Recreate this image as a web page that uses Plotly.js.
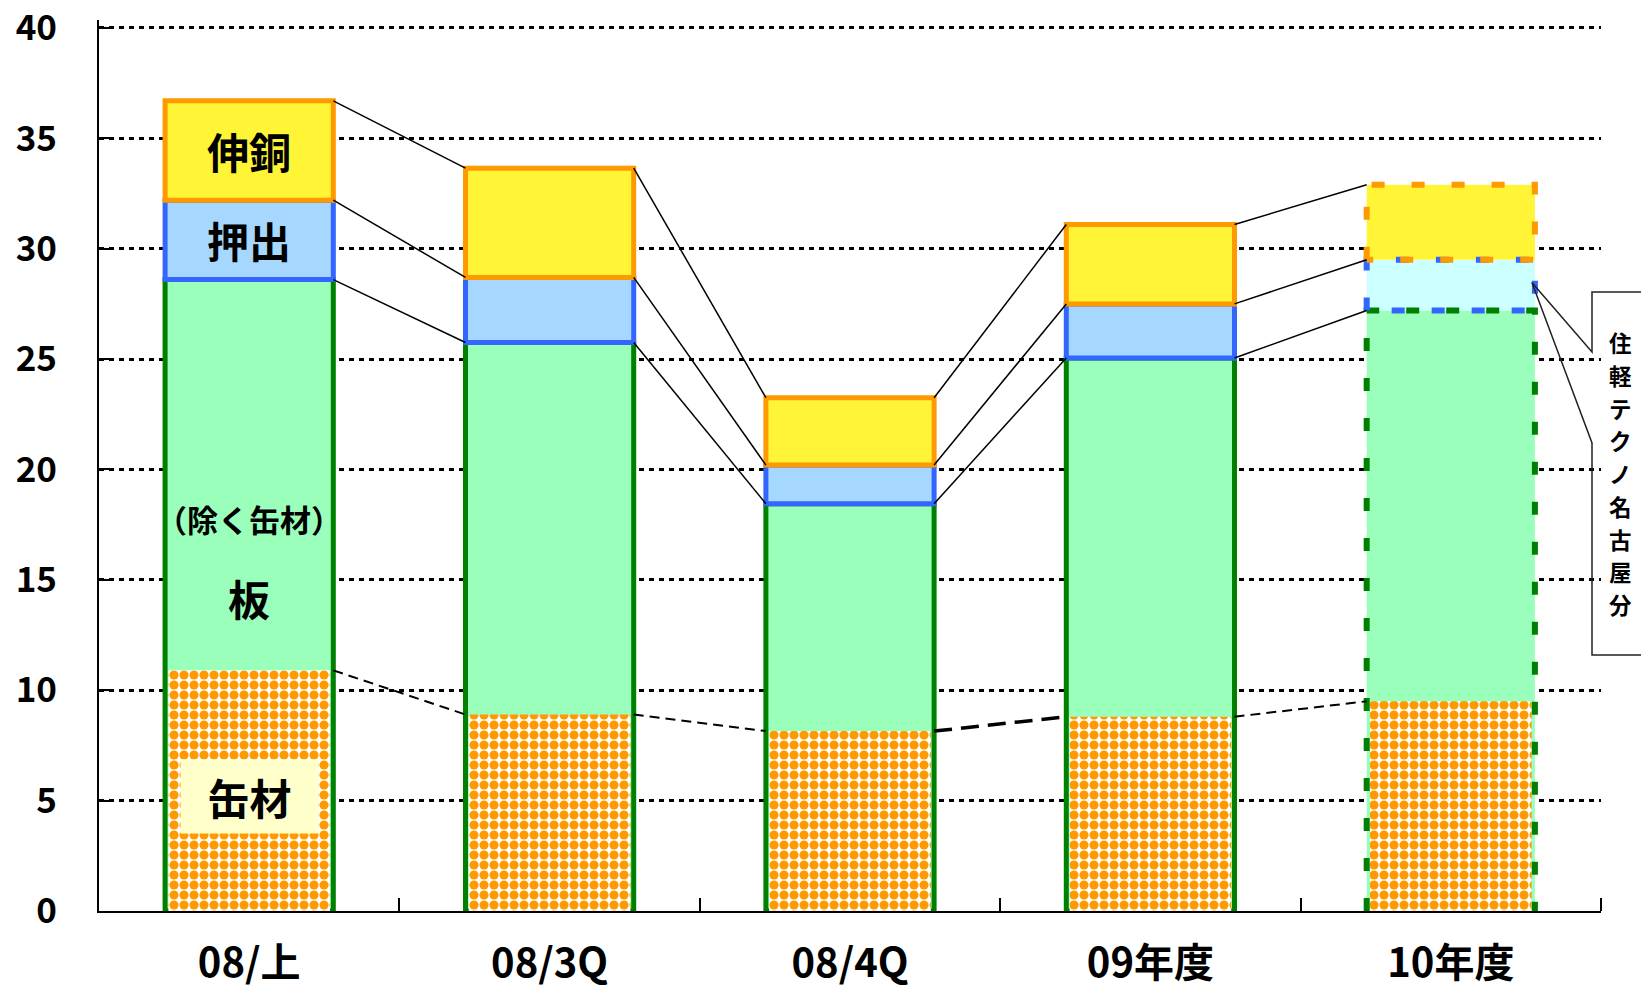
<!DOCTYPE html>
<html>
<head>
<meta charset="utf-8">
<script src="https://cdn.plot.ly/plotly-3.0.1.min.js"></script>
<style>
  html, body { margin: 0; padding: 0; background: #ffffff; }
  #chart { width: 1641px; height: 992px; }
</style>
</head>
<body>
<div id="chart"></div>
<script>
// Periods shown on the horizontal axis
const categories = ['08/上', '08/3Q', '08/4Q', '09年度', '10年度'];

// Segment values per period (stacked bottom to top)
const canStock   = [10.9, 8.9, 8.15, 8.8, 9.5];     // 缶材
const plateExCan = [17.7, 16.85, 10.3, 16.25, 17.7]; // 板（除く缶材）
const extrusion  = [3.6, 2.95, 1.75, 2.45, 2.3];     // 押出
const copper     = [4.5, 4.95, 3.05, 3.6, 3.4];      // 伸銅

const yTicks = [0, 5, 10, 15, 20, 25, 30, 35, 40];

// Text for the callout box next to the last bar
const calloutText = '住軽テクノ名古屋分';

// ---- derived stack levels ----
const n = categories.length;
const xs = categories.map((_, i) => i);
const plateTop = xs.map(i => canStock[i] + plateExCan[i]);
const extTop   = xs.map(i => plateTop[i] + extrusion[i]);
const copTop   = xs.map(i => extTop[i] + copper[i]);

const BW = 0.56;          // bar width in category units
const last = n - 1;       // forecast bar drawn with dashed outlines
const solidW = xs.map(i => (i === last ? 0 : 5));

const FONT = '"Noto Sans CJK JP", "Noto Sans", sans-serif';

// plot geometry (pixels)
const M = { l: 99, r: 40, t: 20, b: 81 };
const Y_MAX = 40.36;
const plotW = 1641 - M.l - M.r;
const plotH = 992 - M.t - M.b;

const traces = [];

// plate (total, including can stock) with green outline
traces.push({
  type: 'bar', x: xs, y: plateTop, base: xs.map(() => 0), width: BW,
  marker: { color: '#99FFBB', line: { color: '#008000', width: solidW } },
  hoverinfo: 'skip', showlegend: false
});
// can stock with orange dot pattern
traces.push({
  type: 'bar', x: xs, y: canStock, base: xs.map(() => 0), width: BW - 0.022,
  marker: { color: '#FFFFFF', line: { width: 0 },
            pattern: { shape: '.', fgcolor: '#FF9900', bgcolor: '#FFFFFF', size: 10, solidity: 0.66 } },
  hoverinfo: 'skip', showlegend: false
});
// extrusion
traces.push({
  type: 'bar', x: xs, y: extrusion, base: plateTop, width: BW,
  marker: { color: xs.map(i => (i === last ? '#CCFFFF' : '#A6D8FF')),
            line: { color: '#3366FF', width: solidW } },
  hoverinfo: 'skip', showlegend: false
});
// copper
traces.push({
  type: 'bar', x: xs, y: copper, base: extTop, width: BW,
  marker: { color: '#FFF536', line: { color: '#FF9900', width: solidW } },
  hoverinfo: 'skip', showlegend: false
});

// dashed outlines for the last bar
const L = last - BW / 2, R = last + BW / 2;
const dashStyle = '13px,27px';
traces.push({
  type: 'scatter', mode: 'lines', x: [L, L, R, R], y: [0, plateTop[last], plateTop[last], 0],
  line: { color: '#008000', width: 6, dash: dashStyle }, hoverinfo: 'skip', showlegend: false
});
traces.push({
  type: 'scatter', mode: 'lines', x: [L, L, R, R, L],
  y: [plateTop[last], extTop[last], extTop[last], plateTop[last], plateTop[last]],
  line: { color: '#3366FF', width: 6, dash: dashStyle }, hoverinfo: 'skip', showlegend: false
});
traces.push({
  type: 'scatter', mode: 'lines', x: [L, L, R, R, L],
  y: [extTop[last], copTop[last], copTop[last], extTop[last], extTop[last]],
  line: { color: '#FF9900', width: 6, dash: dashStyle }, hoverinfo: 'skip', showlegend: false
});

// connector lines between neighbouring bars
function connector(levels, pairs) {
  const cx = [], cy = [];
  pairs.forEach(i => {
    cx.push(i + BW / 2, i + 1 - BW / 2, null);
    cy.push(levels[i], levels[i + 1], null);
  });
  return { x: cx, y: cy };
}
const allPairs = xs.slice(0, n - 1);
[plateTop, extTop, copTop].forEach(levels => {
  const c = connector(levels, allPairs);
  traces.push({
    type: 'scatter', mode: 'lines', x: c.x, y: c.y,
    line: { color: '#000000', width: 1.5 }, hoverinfo: 'skip', showlegend: false
  });
});
// can stock connectors (dashed); the 08/4Q -> 09年度 one is heavier
const canThin = connector(canStock, allPairs.filter(i => i !== 2));
traces.push({
  type: 'scatter', mode: 'lines', x: canThin.x, y: canThin.y,
  line: { color: '#000000', width: 2, dash: '10px,6px' }, hoverinfo: 'skip', showlegend: false
});
const canThick = connector(canStock, [2]);
traces.push({
  type: 'scatter', mode: 'lines', x: canThick.x, y: canThick.y,
  line: { color: '#000000', width: 3.5, dash: '18px,9px' }, hoverinfo: 'skip', showlegend: false
});

// labels on the first bar
const labelFont = { family: FONT, size: 42, color: '#000000', weight: 'bold' };
const annotations = [
  { x: 0, y: extTop[0] + copper[0] / 2, text: '伸銅' },
  { x: 0, y: plateTop[0] + extrusion[0] / 2, text: '押出' },
  { x: 0, y: 17.8, text: '（除く缶材）', font: Object.assign({}, labelFont, { size: 31 }) },
  { x: 0, y: 14.2, text: '板' },
  { x: 0, y: 5.2, text: '缶材', bgcolor: '#FFFFCC', width: 135, height: 71 }
].map(a => Object.assign({ xref: 'x', yref: 'y', showarrow: false, font: labelFont }, a));

// pixel -> paper helpers for the callout drawn outside the plot area
const pxToPaperY = py => (992 - M.b - py) / plotH;
const pxToPaperX = px => (px - M.l) / plotW;

// vertical callout text, one glyph per line
const glyphSize = 22.5, pitchSize = 25.2;
annotations.push({
  xref: 'paper', yref: 'paper', x: pxToPaperX(1620), y: pxToPaperY(473),
  xanchor: 'center', yanchor: 'middle', showarrow: false,
  text: Array.from(calloutText).map(ch => `<span style="font-size:${glyphSize}px">${ch}</span>`).join('<br>'),
  font: { family: FONT, size: pitchSize, color: '#000000', weight: 'bold' }
});

// callout box outline with a wedge pointing into the forecast extrusion segment
const tipX = (last + BW / 2 - 0.01 + 0.5) / n;
const tipY = (plateTop[last] + extrusion[last] * 0.55) / Y_MAX;
const bx = pxToPaperX(1592), bxr = 1.06;
const byTop = pxToPaperY(292), byBot = pxToPaperY(655);
const w1 = pxToPaperY(352), w2 = pxToPaperY(443);
const shapes = [{
  type: 'path', xref: 'paper', yref: 'paper',
  path: `M${bxr},${byTop} L${bx},${byTop} L${bx},${w1} L${tipX},${tipY} L${bx},${w2} L${bx},${byBot} L${bxr},${byBot}`,
  line: { color: '#222222', width: 1.5 }, fillcolor: 'rgba(0,0,0,0)'
}];

const layout = {
  width: 1641, height: 992,
  margin: { l: M.l, r: M.r, t: M.t, b: M.b, pad: 0 },
  paper_bgcolor: '#ffffff', plot_bgcolor: '#ffffff',
  barmode: 'overlay',
  showlegend: false,
  xaxis: {
    range: [-0.5, n - 0.5], fixedrange: true, automargin: false,
    tickmode: 'array', tickvals: xs, ticktext: categories, ticks: '',
    tickfont: { family: FONT, size: 40, color: '#000000', weight: 'bold' },
    ticklabelstandoff: 16,
    showline: true, linecolor: '#000000', linewidth: 2,
    showgrid: false, zeroline: false,
    minor: { tickmode: 'array', tickvals: xs.map(i => i + 0.5), ticks: 'inside', ticklen: 13,
             tickwidth: 2, tickcolor: '#000000', showgrid: false }
  },
  yaxis: {
    range: [0, Y_MAX], fixedrange: true, automargin: false,
    tickmode: 'array', tickvals: yTicks, ticktext: yTicks.map(String),
    ticks: 'inside', ticklen: 12, tickwidth: 2, tickcolor: '#000000',
    tickfont: { family: FONT, size: 35, color: '#000000', weight: 'bold' },
    ticklabelstandoff: 33, ticklabeloverflow: 'allow',
    showline: true, linecolor: '#000000', linewidth: 2,
    showgrid: true, gridcolor: '#000000', gridwidth: 3, griddash: '5px,5px',
    zeroline: false
  },
  annotations: annotations,
  shapes: shapes
};

Plotly.newPlot('chart', traces, layout, { displayModeBar: false, staticPlot: true });
</script>
</body>
</html>
